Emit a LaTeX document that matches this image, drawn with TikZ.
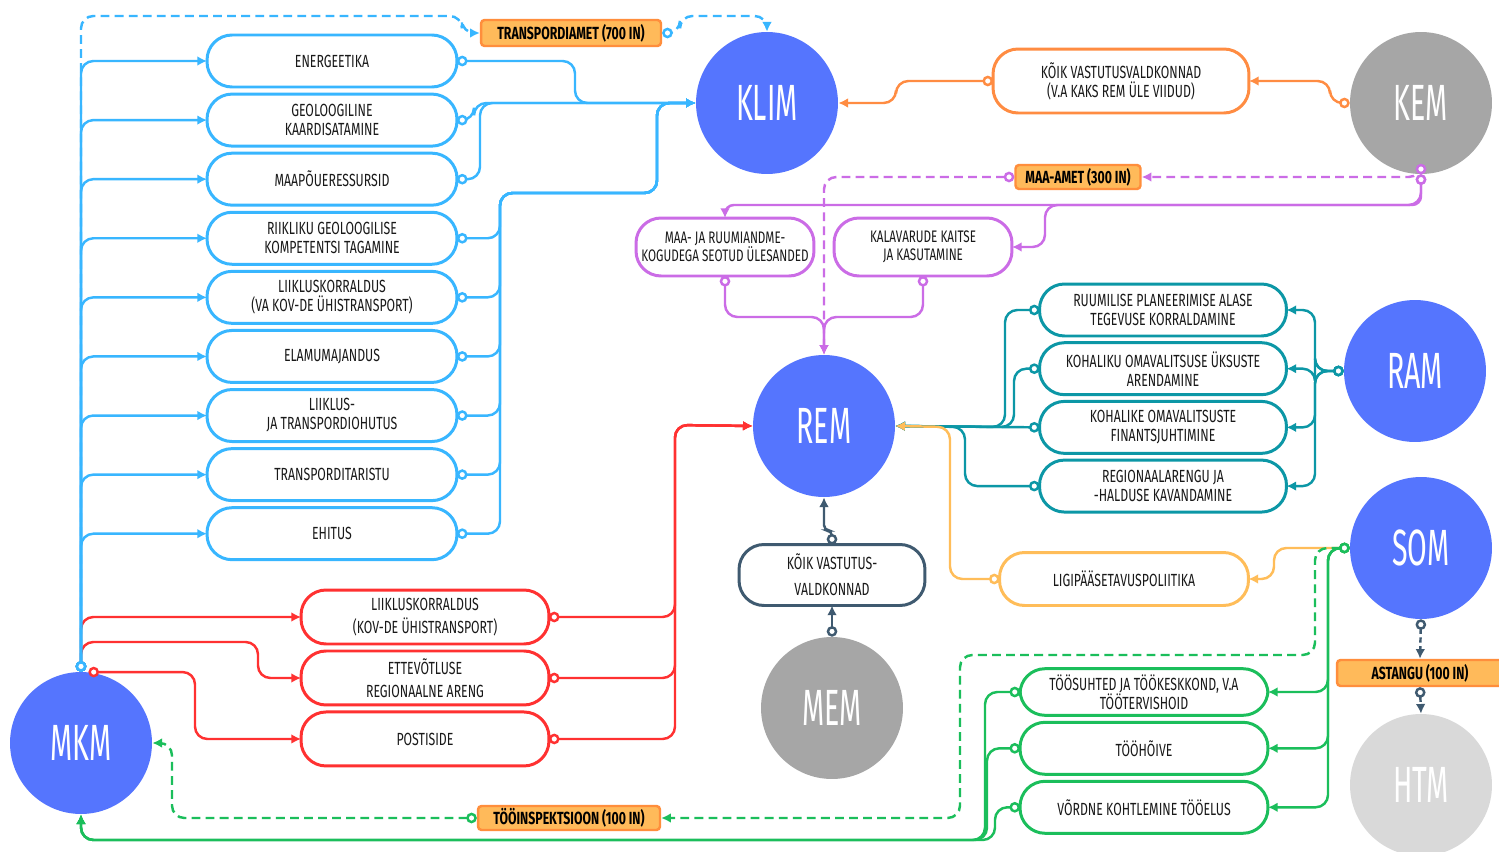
\documentclass[tikz,border=0pt]{standalone}
\usepackage{fontspec}
\setmainfont{Fira Sans}[FakeStretch=0.7]
\newfontfamily\ministryfont{Fira Sans}[FakeStretch=0.56]
\usetikzlibrary{arrows.meta,positioning}

\definecolor{minblue}{HTML}{5575FE}
\definecolor{mingray}{HTML}{A6A6A6}
\definecolor{minlight}{HTML}{D9D9D9}
\definecolor{skyline}{HTML}{38B6FF}
\definecolor{redline}{HTML}{FF3131}
\definecolor{orangeline}{HTML}{FF8C42}
\definecolor{purpleline}{HTML}{CB6CE6}
\definecolor{tealline}{HTML}{0C97A6}
\definecolor{yellowline}{HTML}{FFBD59}
\definecolor{slateline}{HTML}{3F5A70}
\definecolor{greenline}{HTML}{1BBE5B}
\definecolor{tagfill}{HTML}{FFBA5A}
\definecolor{tagline}{HTML}{FF8E3C}

\begin{document}
\begin{tikzpicture}[x=0.02cm, y=-0.02cm]

    \tikzstyle{ministry} = [circle, minimum size=2.84cm, inner sep=0pt, text=white, font=\ministryfont\fontsize{29}{29}\selectfont]
    \tikzstyle{task} = [rectangle, rounded corners=0.5cm, line width=1.7pt, fill=white, outer sep=0pt, align=center, text=black!90, font=\fontsize{10}{10.8}\selectfont]
    \tikzstyle{skybox} = [task, draw=skyline, minimum width=5cm, minimum height=1.04cm]
    \tikzstyle{redbox} = [task, draw=redline, minimum width=4.96cm, minimum height=1.08cm, font=\fontsize{10}{13}\selectfont]
    \tikzstyle{tealbox} = [task, draw=tealline, minimum width=4.94cm, minimum height=1.04cm]
    \tikzstyle{greenbox} = [task, draw=greenline, minimum width=4.96cm, minimum height=1.04cm]
    \tikzstyle{purplebox} = [task, draw=purpleline, minimum width=3.56cm, minimum height=1.16cm, inner xsep=1pt, font=\fontsize{9.5}{10.5}\selectfont]
    \tikzstyle{agency} = [rectangle, rounded corners=2pt, draw=tagline, fill=tagfill, line width=1.4pt, inner sep=0pt, font=\bfseries\fontsize{10}{10}\selectfont]
    \tikzstyle{link} = [line width=1.4pt, rounded corners=7pt, solid, {Circle[length=6pt, fill=white]}-{Latex[length=5.5pt, width=5.5pt]}]
    \tikzstyle{loose} = [dash pattern=on 5pt off 3pt]

    \fill[white] (0,0) rectangle (1499,852);
    \useasboundingbox (0,0) rectangle (1499,852);

    \node (klim)  [ministry, fill=minblue]   at (767,103)  {KLIM};
    \node (kem)   [ministry, fill=mingray]   at (1421,103) {KEM};
    \node (ram)   [ministry, fill=minblue]   at (1415,371) {RAM};
    \node (rem)   [ministry, fill=minblue]   at (824,426)  {REM};
    \node (som)   [ministry, fill=minblue]   at (1421,548) {SOM};
    \node (htm)   [ministry, fill=minlight]  at (1421,785) {HTM};
    \node (mem)   [ministry, fill=mingray]   at (832,708)  {MEM};
    \node (mkm)   [ministry, fill=minblue]   at (81,743)   {MKM};

    \node (energ) [skybox]                          at (332,61) {ENERGEETIKA};
    \node (geol)  [skybox, below=0.142cm of energ]  {GEOLOOGILINE\\KAARDISATAMINE};
    \node (maap)  [skybox, below=0.142cm of geol]   {MAAPÕUERESSURSID};
    \node (riik)  [skybox, below=0.142cm of maap]   {RIIKLIKU GEOLOOGILISE\\KOMPETENTSI TAGAMINE};
    \node (lvkov) [skybox, below=0.142cm of riik]   {LIIKLUSKORRALDUS\\(VA KOV-DE ÜHISTRANSPORT)};
    \node (elam)  [skybox, below=0.142cm of lvkov]  {ELAMUMAJANDUS};
    \node (lohu)  [skybox, below=0.142cm of elam]   {LIIKLUS-\\JA TRANSPORDIOHUTUS};
    \node (tari)  [skybox, below=0.142cm of lohu]   {TRANSPORDITARISTU};
    \node (ehit)  [skybox, below=0.142cm of tari]   {EHITUS};

    \node (lkov)  [redbox]                          at (425,617) {LIIKLUSKORRALDUS\\(KOV-DE ÜHISTRANSPORT)};
    \node (ettev) [redbox, below=0.14cm of lkov]    {ETTEVÕTLUSE\\REGIONAALNE ARENG};
    \node (post)  [redbox, below=0.14cm of ettev]   {POSTISIDE};

    \node (kvk)   [task, draw=orangeline, minimum width=5.12cm, minimum height=1.28cm] at (1121,81) {KÕIK VASTUTUSVALDKONNAD\\(V.A KAKS REM ÜLE VIIDUD)};

    \node (maa)   [purplebox]                       at (725,247) {MAA- JA RUUMIANDME-\\KOGUDEGA SEOTUD ÜLESANDED};
    \node (kala)  [purplebox]                       at (923,247) {KALAVARUDE KAITSE\\JA KASUTAMINE};

    \node (ruum)  [tealbox]                         at (1163,310) {RUUMILISE PLANEERIMISE ALASE\\TEGEVUSE KORRALDAMINE};
    \node (kou)   [tealbox, below=0.134cm of ruum]  {KOHALIKU OMAVALITSUSE ÜKSUSTE\\ARENDAMINE};
    \node (kfin)  [tealbox, below=0.134cm of kou]   {KOHALIKE OMAVALITSUSTE\\FINANTSJUHTIMINE};
    \node (reg)   [tealbox, below=0.134cm of kfin]  {REGIONAALARENGU JA\\-HALDUSE KAVANDAMINE};

    \node (lig)   [task, draw=yellowline, minimum width=4.98cm, minimum height=1.06cm] at (1124,579) {LIGIPÄÄSETAVUSPOLIITIKA};

    \node (kv)    [task, draw=slateline, minimum width=3.72cm, minimum height=1.22cm, font=\fontsize{10}{15}\selectfont] at (832,575) {KÕIK VASTUTUS-\\VALDKONNAD};

    \node (toos)  [greenbox, minimum height=0.92cm] at (1144,692) {TÖÖSUHTED JA TÖÖKESKKOND, V.A\\TÖÖTERVISHOID};
    \node (too)   [greenbox, below=0.14cm of toos]  {TÖÖHÕIVE};
    \node (vord)  [greenbox, below=0.14cm of too]   {VÕRDNE KOHTLEMINE TÖÖELUS};

    \node (transp)  [agency, minimum width=3.6cm, minimum height=0.52cm]  at (571,33)   {TRANSPORDIAMET (700 IN)};
    \node (maaamet) [agency, minimum width=2.5cm, minimum height=0.48cm]  at (1078,177) {MAA-AMET (300 IN)};
    \node (tooi)    [agency, minimum width=3.64cm, minimum height=0.48cm] at (569,818)  {TÖÖINSPEKTSIOON (100 IN)};
    \node (astangu) [agency, minimum width=3.32cm, minimum height=0.52cm] at (1420,673) {ASTANGU (100 IN)};

    \draw[link, redline] (mkm.north) |- (lkov.west);
    \draw[link, redline] (mkm.north) |- (258,642) |- (ettev.west);
    \draw[link, redline] (mkm.84) -| (195,700) |- (post.west);
    \foreach \b in {lkov,ettev,post}
        \draw[link, redline] (\b.east) -| (675,425) -- (rem.west);

    \foreach \b in {energ,geol,maap,riik,lvkov,elam,lohu,tari,ehit}
        \draw[link, skyline] (mkm.north) |- (\b.west);
    \draw[link, skyline, loose] (mkm.north) |- (462,16) |- (transp.west);
    \draw[link, skyline, loose] (transp.east) -| (680,16) -| (klim.north);
    \draw[link, skyline] (energ.east) -| (575,103) -- (klim.west);
    \draw[link, skyline] (geol.east) -| (474,103) -- (klim.west);
    \draw[link, skyline] (maap.east) -| (480,103) -- (klim.west);
    \foreach \b in {riik,lvkov,elam,lohu,tari,ehit}
        \draw[link, skyline] (\b.east) -| (500,193) -| (657,103) -- (klim.west);

    \draw[link, orangeline] (kem.west) -| (1330,81) -- (kvk.east);
    \draw[link, orangeline] (kvk.west) -| (896,103) -- (klim.east);

    \draw[link, purpleline, rounded corners=5pt] (kem.south) |- (725,205) -- (maa.north);
    \draw[link, purpleline] (kem.south) |- (1045,205) |- (kala.east);
    \draw[link, purpleline, loose] (kem.south) |- (maaamet.east);
    \draw[link, purpleline, loose] (maaamet.west) -| (rem.north);
    \draw[link, purpleline] (maa.south) |- (824,317) -- (rem.north);
    \draw[link, purpleline] (kala.south) |- (824,317) -- (rem.north);

    \foreach \b in {ruum,kou,kfin,reg}
        \draw[link, tealline] (ram.west) -- (1315,371) |- (\b.east);
    \draw[link, tealline] (ruum.west) -| (1005,427) -- (rem.east);
    \draw[link, tealline] (kou.west) -| (1014,427) -- (rem.east);
    \draw[link, tealline] (kfin.west) -- (rem.east);
    \draw[link, tealline] (reg.west) -| (965,427) -- (rem.east);

    \draw[link, yellowline] (som.west) -| (1274,579) -- (lig.east);
    \draw[link, yellowline] (lig.west) -| (950,427) -- (rem.east);

    \draw[link, slateline] (mem.north) -- (kv.south);
    \draw[link, slateline, rounded corners=3pt] (kv.north) -- ++(0,-14) -| (rem.south);
    \draw[link, slateline, dash pattern=on 3pt off 2pt] (som.south) -- (astangu.north);
    \draw[link, slateline, dash pattern=on 3pt off 2pt] (astangu.south) -- (htm.north);

    \foreach \b in {toos,too,vord}
        \draw[link, greenline] (som.west) -| (1328,600) |- (\b.east);
    \draw[link, greenline, loose] (som.west) -| (1315,655) -| (960,780) |- (tooi.east);
    \draw[link, greenline, loose] (tooi.west) -| (172,780) |- (mkm.east);
    \draw[link, greenline] (toos.west) -| (985,840) -| (mkm.south);
    \draw[link, greenline] (too.west) -| (987,840) -| (mkm.south);
    \draw[link, greenline] (vord.west) -| (995,840) -| (mkm.south);

\end{tikzpicture}
\end{document}
